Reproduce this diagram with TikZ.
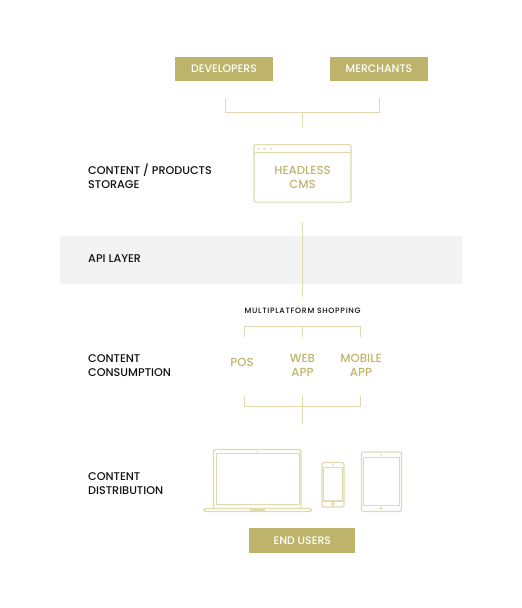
\documentclass[tikz,border=0pt]{standalone}
\usepackage{fontspec}
\setmainfont{Poppins Medium}
\definecolor{gold}{HTML}{BEB36A}
\definecolor{goldline}{HTML}{E0DAAE}
\definecolor{goldtext}{HTML}{BFB46A}
\definecolor{band}{HTML}{F3F3F3}
\definecolor{ink}{HTML}{111111}
\tikzset{
  goldbox/.style={fill=gold,text=white,inner sep=0pt,font=\fontsize{10.9}{13}\selectfont},
  conn/.style={draw=goldline,line width=1.1pt},
  device/.style={draw=goldline,line width=1.1pt,rounded corners=1.5pt},
  side/.style={text=ink,anchor=west,align=left,inner sep=0pt,font=\fontsize{11.2}{14}\selectfont},
  item/.style={text=goldtext,align=center,inner sep=0pt,font=\fontsize{11.7}{14}\selectfont},
}
\begin{document}
\begin{tikzpicture}[x=1pt,y=-1pt]
\useasboundingbox (0,0) rectangle (522,608);
\fill[white] (0,0) rectangle (522,608);
\fill[band] (60,236) rectangle (462,284);
% top boxes
\node[goldbox,minimum width=98pt,minimum height=24pt] (dev) at (224,69) {DEVELOPERS};
\node[goldbox,minimum width=98pt,minimum height=24pt] (mer) at (379,69) {MERCHANTS};
% top bracket
\coordinate (b1l) at (225.5,98);
\coordinate (b1r) at (379.5,98);
\coordinate (b1m) at (302.5,112.5);
\coordinate (b1s) at (302.5,127);
\draw[conn] (b1l) |- (b1r |- b1m) -- (b1r);
\draw[conn] (b1m) -- (b1s);
% CMS window
\node[draw=goldline,line width=1.1pt,rounded corners=2pt,minimum width=97pt,minimum height=57.5pt,inner sep=0pt] (cms) at (302.5,173.3) {};
\draw[conn] (254,152.5) -- (351,152.5);
\foreach \x in {258.3,264.3,270.8} \fill[goldline] (\x,148.9) circle (1.1pt);
\node[item] (cmst) at (302.5,177.6) {HEADLESS\\CMS};
% API line
\coordinate (a1) at (302.5,222);
\coordinate (a2) at (302.5,297);
\draw[conn] (a1) -- (a2);
\node[side] (api) at (88,258.8) {API LAYER};
\node[side] (storage) at (88,176.6) {CONTENT / PRODUCTS\\STORAGE};
\node[side] (cons) at (88,365.6) {CONTENT\\CONSUMPTION};
\node[side] (dist) at (88,483.6) {CONTENT\\DISTRIBUTION};
\node[text=ink,inner sep=0pt,font=\fontsize{7.7}{9}\selectfont\addfontfeatures{LetterSpace=9}] (multi) at (302.7,310.9) {MULTIPLATFORM SHOPPING};
% bracket 2
\coordinate (b2l) at (244.5,337);
\coordinate (b2r) at (360.5,337);
\coordinate (b2m) at (302.5,337);
\coordinate (b2t) at (302.5,326.5);
\draw[conn] (b2l) |- (b2t) -| (b2r);
\draw[conn] (b2t) -- (b2m);
\node[item] (pos) at (242,362.3) {POS};
\node[item] (web) at (302.5,365.6) {WEB\\APP};
\node[item] (mob) at (361,365.6) {MOBILE\\APP};
% bracket 3
\coordinate (b3l) at (244.5,395.7);
\coordinate (b3r) at (360.5,395.7);
\coordinate (b3m) at (302.5,395.7);
\coordinate (b3b) at (302.5,406.5);
\coordinate (b3s) at (302.5,423.5);
\draw[conn] (b3l) |- (b3b) -| (b3r);
\draw[conn] (b3m) -- (b3s);
% laptop
\draw[device] (213.5,508) -- (213.5,449.5) -- (301,449.5) -- (301,508);
\draw[conn] (216.5,453.5) rectangle (299.5,504.5);
\fill[goldline] (257.2,451.5) circle (.7pt);
\draw[device] (203.5,508.5) rectangle (311.5,511.5);
\fill[goldline] (250,508) rectangle (265,510.5);
% phone
\draw[device] (322,462.5) rectangle (344,507);
\draw[conn] (323.5,467.5) rectangle (342.5,501);
\draw[conn] (333,503.9) circle (1.7pt);
\fill[goldline] (333,464.8) circle (1pt);
% tablet
\draw[device] (361.5,452) rectangle (401.5,511.5);
\draw[conn] (363.5,457.5) rectangle (399.5,505.5);
\fill[goldline] (381,455) circle (.9pt);
\fill[goldline] (381,508.5) circle (1.7pt);
\node[goldbox,minimum width=106pt,minimum height=24.5pt] (end) at (302.3,540.5) {END USERS};
\end{tikzpicture}
\end{document}
